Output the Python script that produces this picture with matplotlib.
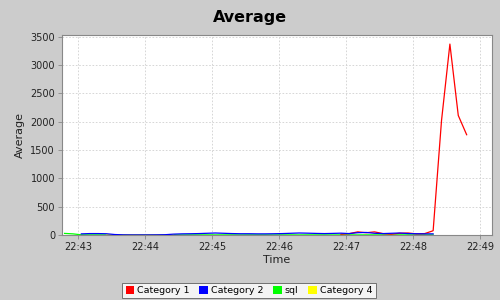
import numpy as np
import pandas as pd
import matplotlib
matplotlib.use("Agg")
import matplotlib.pyplot as plt
import matplotlib.dates as mdates
from matplotlib.patches import Patch

nan = np.nan

times = [
    "22:42:48", "22:42:55.5", "22:43:03", "22:43:10.5", "22:43:18", "22:43:25.5",
    "22:43:33", "22:43:40.5", "22:43:48", "22:43:55.5", "22:44:03", "22:44:10.5",
    "22:44:18", "22:44:25.5", "22:44:33", "22:44:40.5", "22:44:48", "22:44:55.5",
    "22:45:03", "22:45:10.5", "22:45:18", "22:45:25.5", "22:45:33", "22:45:40.5",
    "22:45:48", "22:45:55.5", "22:46:03", "22:46:10.5", "22:46:18", "22:46:25.5",
    "22:46:33", "22:46:40.5", "22:46:48", "22:46:55.5", "22:47:03", "22:47:10.5",
    "22:47:18", "22:47:25.5", "22:47:33", "22:47:40.5", "22:47:48", "22:47:55.5",
    "22:48:03", "22:48:10.5", "22:48:18", "22:48:25.5", "22:48:33", "22:48:40.5",
    "22:48:48",
]

category1 = [nan] * 33 + [15, 25, 55, 40, 55, 25, 15, 30, 35, 20, 25, 75,
                          2020, 3370, 2110, 1770]
category2 = [nan, nan, 20, 25, 25, 22, 8, 3, 2, 2, 2, 3, 5, 15, 20, 22, 25, 30,
             35, 30, 25, 22, 22, 20, 20, 22, 25, 30, 35, 32, 28, 25, 28, 32,
             25, 40, 45, 30, 25, 30, 35, 25, 22, 20, 20, nan, nan, nan, nan]
sql = [28, 20, 3, 2, 2, 1, 2, 2, 1, 2, 2, 1, 2, 2, 1, 2, 2, 2, 1, 2, 2, 1, 2,
       2, 2, 1, 2, 2, 1, 2, 2, 2, 1, 2, 2, 1, 2, 2, 2, 1, 2, 2, 1, 2, 2,
       nan, nan, nan, nan]
category4 = [nan] * 5 + [3, 2, 2, 3, 2, 2, 3, 2, 2] + [nan] * 35

series_names = ["Category 1", "Category 2", "sql", "Category 4"]
series_colors = ["#ff0000", "#0000ff", "#00ff00", "#ffff00"]

x_ticks = ["22:43", "22:44", "22:45", "22:46", "22:47", "22:48", "22:49"]
y_ticks = [0, 500, 1000, 1500, 2000, 2500, 3000, 3500]

base = "2024-01-01 "
t = pd.to_datetime([base + s for s in times], format="mixed")

bg = "#cccccc"
fig = plt.figure(figsize=(5, 3), dpi=100, facecolor=bg)
ax = fig.add_axes([0.124, 0.2167, 0.86, 0.6666])
ax.set_facecolor("white")

data = {"Category 1": category1, "Category 2": category2,
        "sql": sql, "Category 4": category4}
color_of = dict(zip(series_names, series_colors))
for z, name in enumerate(["sql", "Category 4", "Category 1", "Category 2"]):
    ax.plot(t, data[name], color=color_of[name], lw=0.9, zorder=3 + z)

xt = pd.to_datetime([base + s for s in x_ticks], format="mixed")
ax.set_xticks(xt)
ax.xaxis.set_major_formatter(mdates.DateFormatter("%H:%M"))
ax.set_xlim(pd.Timestamp(base + "22:42:45.7"), pd.Timestamp(base + "22:49:10.7"))
ax.set_yticks(y_ticks)
ax.set_ylim(0, 3530)

ax.grid(True, color="#d0d0d0", linestyle=(0, (2, 2)), lw=0.6, zorder=0)
for s in ax.spines.values():
    s.set_color("#888888")
    s.set_linewidth(0.8)
ax.tick_params(axis="both", direction="out", length=3, width=0.6,
               color="#888888", labelsize=7, labelcolor="#222222", pad=2)

fig.text(0.5, 0.943, "Average", ha="center", va="center",
         fontsize=11.5, fontweight="bold", color="black")
ax.set_xlabel("Time", fontsize=8, labelpad=2, color="#222222")
ax.set_ylabel("Average", fontsize=8, labelpad=4, color="#222222")

handles = [Patch(facecolor=c, edgecolor="none") for c in series_colors]
leg = fig.legend(handles, series_names, loc="center",
                 bbox_to_anchor=(0.498, 0.032), ncol=4, fontsize=6.8,
                 frameon=True, fancybox=False, handlelength=0.9,
                 handleheight=0.9, handletextpad=0.35, columnspacing=1.0,
                 borderpad=0.35, borderaxespad=0)
leg.get_frame().set_edgecolor("#555555")
leg.get_frame().set_linewidth(0.7)
leg.get_frame().set_facecolor("white")

fig.savefig("out.png", dpi=100, facecolor=bg)
